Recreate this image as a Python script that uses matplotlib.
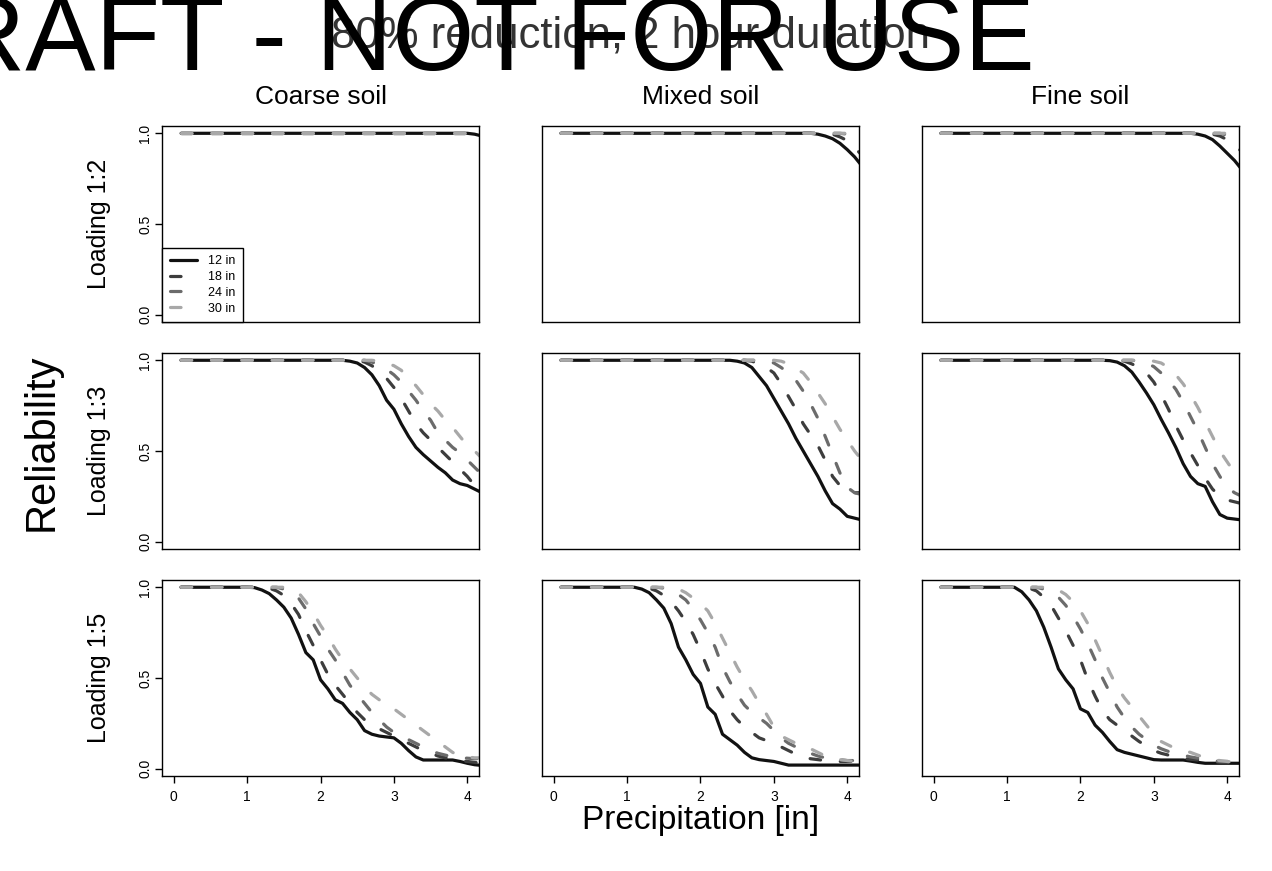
import matplotlib
matplotlib.use('Agg')
import matplotlib.pyplot as plt

plt.rcParams['font.family'] = ['Liberation Sans', 'DejaVu Sans']

# precipitation grid [in]
PRECIP = [0.1, 0.2, 0.3, 0.4, 0.5, 0.6, 0.7, 0.8, 0.9, 1.0,
          1.1, 1.2, 1.3, 1.4, 1.5, 1.6, 1.7, 1.8, 1.9, 2.0,
          2.1, 2.2, 2.3, 2.4, 2.5, 2.6, 2.7, 2.8, 2.9, 3.0,
          3.1, 3.2, 3.3, 3.4, 3.5, 3.6, 3.7, 3.8, 3.9, 4.0,
          4.1, 4.2]

DEPTHS = ['12 in', '18 in', '24 in', '30 in']
SOILS = ['Coarse soil', 'Mixed soil', 'Fine soil']
LOADINGS = ['Loading 1:2', 'Loading 1:3', 'Loading 1:5']
XTICKS = [0, 1, 2, 3, 4]
YTICKS = [0.0, 0.5, 1.0]
YTICKLABELS = ['0.0', '0.5', '1.0']

# ---- Loading 1:2 ----
L2_COARSE_12 = [1, 1, 1, 1, 1, 1, 1, 1, 1, 1,
                1, 1, 1, 1, 1, 1, 1, 1, 1, 1,
                1, 1, 1, 1, 1, 1, 1, 1, 1, 1,
                1, 1, 1, 1, 1, 1, 1, 1, 1, 1,
                0.995, 0.985]
L2_COARSE_18 = [1, 1, 1, 1, 1, 1, 1, 1, 1, 1,
                1, 1, 1, 1, 1, 1, 1, 1, 1, 1,
                1, 1, 1, 1, 1, 1, 1, 1, 1, 1,
                1, 1, 1, 1, 1, 1, 1, 1, 1, 1,
                1, 1]
L2_COARSE_24 = [1, 1, 1, 1, 1, 1, 1, 1, 1, 1,
                1, 1, 1, 1, 1, 1, 1, 1, 1, 1,
                1, 1, 1, 1, 1, 1, 1, 1, 1, 1,
                1, 1, 1, 1, 1, 1, 1, 1, 1, 1,
                1, 1]
L2_COARSE_30 = [1, 1, 1, 1, 1, 1, 1, 1, 1, 1,
                1, 1, 1, 1, 1, 1, 1, 1, 1, 1,
                1, 1, 1, 1, 1, 1, 1, 1, 1, 1,
                1, 1, 1, 1, 1, 1, 1, 1, 1, 1,
                1, 1]
L2_MIXED_12 = [1, 1, 1, 1, 1, 1, 1, 1, 1, 1,
               1, 1, 1, 1, 1, 1, 1, 1, 1, 1,
               1, 1, 1, 1, 1, 1, 1, 1, 1, 1,
               1, 1, 1, 1, 1, 0.995, 0.985, 0.97, 0.945, 0.91,
               0.87, 0.82]
L2_MIXED_18 = [1, 1, 1, 1, 1, 1, 1, 1, 1, 1,
               1, 1, 1, 1, 1, 1, 1, 1, 1, 1,
               1, 1, 1, 1, 1, 1, 1, 1, 1, 1,
               1, 1, 1, 1, 1, 1, 1, 0.995, 0.98, 0.96,
               0.92, 0.88]
L2_MIXED_24 = [1, 1, 1, 1, 1, 1, 1, 1, 1, 1,
               1, 1, 1, 1, 1, 1, 1, 1, 1, 1,
               1, 1, 1, 1, 1, 1, 1, 1, 1, 1,
               1, 1, 1, 1, 1, 1, 1, 1, 1, 0.995,
               0.98, 0.96]
L2_MIXED_30 = [1, 1, 1, 1, 1, 1, 1, 1, 1, 1,
               1, 1, 1, 1, 1, 1, 1, 1, 1, 1,
               1, 1, 1, 1, 1, 1, 1, 1, 1, 1,
               1, 1, 1, 1, 1, 1, 1, 1, 1, 1,
               0.995, 0.99]
L2_FINE_12 = [1, 1, 1, 1, 1, 1, 1, 1, 1, 1,
              1, 1, 1, 1, 1, 1, 1, 1, 1, 1,
              1, 1, 1, 1, 1, 1, 1, 1, 1, 1,
              1, 1, 1, 1, 1, 0.995, 0.985, 0.965, 0.93, 0.89,
              0.85, 0.80]
L2_FINE_18 = [1, 1, 1, 1, 1, 1, 1, 1, 1, 1,
              1, 1, 1, 1, 1, 1, 1, 1, 1, 1,
              1, 1, 1, 1, 1, 1, 1, 1, 1, 1,
              1, 1, 1, 1, 1, 1, 1, 0.995, 0.985, 0.965,
              0.93, 0.90]
L2_FINE_24 = [1, 1, 1, 1, 1, 1, 1, 1, 1, 1,
              1, 1, 1, 1, 1, 1, 1, 1, 1, 1,
              1, 1, 1, 1, 1, 1, 1, 1, 1, 1,
              1, 1, 1, 1, 1, 1, 1, 1, 1, 0.99,
              0.97, 0.94]
L2_FINE_30 = [1, 1, 1, 1, 1, 1, 1, 1, 1, 1,
              1, 1, 1, 1, 1, 1, 1, 1, 1, 1,
              1, 1, 1, 1, 1, 1, 1, 1, 1, 1,
              1, 1, 1, 1, 1, 1, 1, 1, 1, 1,
              1, 0.99]

# ---- Loading 1:3 ----
L3_COARSE_12 = [1, 1, 1, 1, 1, 1, 1, 1, 1, 1,
                1, 1, 1, 1, 1, 1, 1, 1, 1, 1,
                1, 1, 1, 0.995, 0.985, 0.96, 0.92, 0.86, 0.78, 0.73,
                0.65, 0.58, 0.52, 0.48, 0.445, 0.41, 0.38, 0.34, 0.32, 0.31,
                0.29, 0.27]
L3_COARSE_18 = [1, 1, 1, 1, 1, 1, 1, 1, 1, 1,
                1, 1, 1, 1, 1, 1, 1, 1, 1, 1,
                1, 1, 1, 1, 1, 0.99, 0.97, 0.94, 0.9, 0.85,
                0.79, 0.72, 0.65, 0.6, 0.56, 0.52, 0.48, 0.44, 0.4, 0.36,
                0.31, 0.28]
L3_COARSE_24 = [1, 1, 1, 1, 1, 1, 1, 1, 1, 1,
                1, 1, 1, 1, 1, 1, 1, 1, 1, 1,
                1, 1, 1, 1, 1, 1, 0.99, 0.975, 0.95, 0.92,
                0.88, 0.83, 0.78, 0.72, 0.67, 0.6, 0.56, 0.52, 0.49, 0.45,
                0.41, 0.37]
L3_COARSE_30 = [1, 1, 1, 1, 1, 1, 1, 1, 1, 1,
                1, 1, 1, 1, 1, 1, 1, 1, 1, 1,
                1, 1, 1, 1, 1, 1, 1, 0.995, 0.985, 0.97,
                0.945, 0.9, 0.86, 0.81, 0.76, 0.72, 0.67, 0.63, 0.58, 0.53,
                0.5, 0.46]
L3_MIXED_12 = [1, 1, 1, 1, 1, 1, 1, 1, 1, 1,
               1, 1, 1, 1, 1, 1, 1, 1, 1, 1,
               1, 1, 1, 1, 0.995, 0.985, 0.96, 0.91, 0.86, 0.79,
               0.72, 0.65, 0.57, 0.5, 0.43, 0.36, 0.28, 0.21, 0.18, 0.14,
               0.13, 0.12]
L3_MIXED_18 = [1, 1, 1, 1, 1, 1, 1, 1, 1, 1,
               1, 1, 1, 1, 1, 1, 1, 1, 1, 1,
               1, 1, 1, 1, 1, 1, 0.995, 0.98, 0.96, 0.93,
               0.87, 0.8, 0.73, 0.65, 0.59, 0.53, 0.45, 0.36, 0.31, 0.28,
               0.27, 0.27]
L3_MIXED_24 = [1, 1, 1, 1, 1, 1, 1, 1, 1, 1,
               1, 1, 1, 1, 1, 1, 1, 1, 1, 1,
               1, 1, 1, 1, 1, 1, 1, 1, 0.995, 0.985,
               0.96, 0.93, 0.89, 0.83, 0.76, 0.68, 0.58, 0.48, 0.38, 0.3,
               0.27, 0.26]
L3_MIXED_30 = [1, 1, 1, 1, 1, 1, 1, 1, 1, 1,
               1, 1, 1, 1, 1, 1, 1, 1, 1, 1,
               1, 1, 1, 1, 1, 1, 1, 1, 1, 1,
               0.995, 0.98, 0.955, 0.93, 0.88, 0.82, 0.76, 0.69, 0.62, 0.56,
               0.5, 0.45]
L3_FINE_12 = [1, 1, 1, 1, 1, 1, 1, 1, 1, 1,
              1, 1, 1, 1, 1, 1, 1, 1, 1, 1,
              1, 1, 1, 0.998, 0.99, 0.97, 0.935, 0.88, 0.82, 0.755,
              0.675, 0.6, 0.52, 0.43, 0.36, 0.32, 0.305, 0.22, 0.15, 0.13,
              0.125, 0.12]
L3_FINE_18 = [1, 1, 1, 1, 1, 1, 1, 1, 1, 1,
              1, 1, 1, 1, 1, 1, 1, 1, 1, 1,
              1, 1, 1, 1, 1, 0.995, 0.98, 0.96, 0.93, 0.88,
              0.81, 0.73, 0.64, 0.56, 0.49, 0.42, 0.35, 0.29, 0.25, 0.23,
              0.22, 0.21]
L3_FINE_24 = [1, 1, 1, 1, 1, 1, 1, 1, 1, 1,
              1, 1, 1, 1, 1, 1, 1, 1, 1, 1,
              1, 1, 1, 1, 1, 1, 1, 0.995, 0.985, 0.965,
              0.93, 0.89, 0.84, 0.77, 0.69, 0.61, 0.52, 0.43, 0.36, 0.3,
              0.27, 0.25]
L3_FINE_30 = [1, 1, 1, 1, 1, 1, 1, 1, 1, 1,
              1, 1, 1, 1, 1, 1, 1, 1, 1, 1,
              1, 1, 1, 1, 1, 1, 1, 1, 1, 0.995,
              0.985, 0.96, 0.92, 0.87, 0.81, 0.74, 0.66, 0.58, 0.5, 0.44,
              0.38, 0.34]

# ---- Loading 1:5 ----
L5_COARSE_12 = [1, 1, 1, 1, 1, 1, 1, 1, 1, 1,
                0.998, 0.985, 0.965, 0.93, 0.89, 0.83, 0.74, 0.64, 0.6, 0.49,
                0.44, 0.38, 0.36, 0.31, 0.27, 0.21, 0.19, 0.18, 0.175, 0.17,
                0.14, 0.1, 0.065, 0.048, 0.048, 0.048, 0.048, 0.048, 0.04, 0.03,
                0.022, 0.018]
L5_COARSE_18 = [1, 1, 1, 1, 1, 1, 1, 1, 1, 1,
                1, 1, 0.995, 0.98, 0.955, 0.91, 0.85, 0.76, 0.68, 0.6,
                0.52, 0.46, 0.41, 0.36, 0.31, 0.27, 0.24, 0.22, 0.2, 0.18,
                0.16, 0.14, 0.12, 0.1, 0.085, 0.07, 0.06, 0.05, 0.045, 0.04,
                0.035, 0.03]
L5_COARSE_24 = [1, 1, 1, 1, 1, 1, 1, 1, 1, 1,
                1, 1, 1, 1, 0.99, 0.975, 0.94, 0.88, 0.8, 0.73,
                0.66, 0.6, 0.53, 0.46, 0.41, 0.36, 0.31, 0.27, 0.23, 0.2,
                0.18, 0.16, 0.14, 0.12, 0.1, 0.085, 0.075, 0.065, 0.06, 0.058,
                0.055, 0.055]
L5_COARSE_30 = [1, 1, 1, 1, 1, 1, 1, 1, 1, 1,
                1, 1, 1, 1, 1, 0.99, 0.97, 0.92, 0.86, 0.79,
                0.73, 0.66, 0.6, 0.55, 0.5, 0.45, 0.41, 0.38, 0.35, 0.33,
                0.3, 0.27, 0.24, 0.21, 0.18, 0.15, 0.12, 0.09, 0.07, 0.065,
                0.06, 0.06]
L5_MIXED_12 = [1, 1, 1, 1, 1, 1, 1, 1, 1, 1,
               1, 0.99, 0.97, 0.93, 0.885, 0.8, 0.67, 0.6, 0.52, 0.47,
               0.34, 0.3, 0.19, 0.16, 0.13, 0.09, 0.06, 0.05, 0.045, 0.04,
               0.03, 0.02, 0.02, 0.02, 0.02, 0.02, 0.02, 0.02, 0.02, 0.02,
               0.02, 0.02]
L5_MIXED_18 = [1, 1, 1, 1, 1, 1, 1, 1, 1, 1,
               1, 1, 0.995, 0.98, 0.955, 0.92, 0.87, 0.81, 0.74, 0.65,
               0.55, 0.47, 0.4, 0.32, 0.27, 0.23, 0.2, 0.17, 0.155, 0.14,
               0.12, 0.1, 0.08, 0.065, 0.055, 0.05, 0.045, 0.04, 0.04, 0.04,
               0.04, 0.04]
L5_MIXED_24 = [1, 1, 1, 1, 1, 1, 1, 1, 1, 1,
               1, 1, 1, 1, 0.995, 0.985, 0.96, 0.93, 0.88, 0.82,
               0.75, 0.67, 0.56, 0.48, 0.41, 0.35, 0.31, 0.28, 0.25, 0.21,
               0.17, 0.14, 0.12, 0.1, 0.085, 0.07, 0.06, 0.05, 0.05, 0.045,
               0.045, 0.045]
L5_MIXED_30 = [1, 1, 1, 1, 1, 1, 1, 1, 1, 1,
               1, 1, 1, 1, 1, 1, 0.99, 0.97, 0.94, 0.91,
               0.87, 0.8, 0.72, 0.64, 0.56, 0.49, 0.43, 0.36, 0.3, 0.23,
               0.18, 0.16, 0.14, 0.125, 0.11, 0.09, 0.07, 0.055, 0.05, 0.045,
               0.04, 0.04]
L5_FINE_12 = [1, 1, 1, 1, 1, 1, 1, 1, 1, 1,
              1, 0.975, 0.93, 0.87, 0.78, 0.67, 0.55, 0.49, 0.44, 0.33,
              0.31, 0.24, 0.2, 0.15, 0.105, 0.09, 0.08, 0.07, 0.06, 0.05,
              0.048, 0.048, 0.048, 0.048, 0.042, 0.035, 0.03, 0.03, 0.03, 0.03,
              0.03, 0.03]
L5_FINE_18 = [1, 1, 1, 1, 1, 1, 1, 1, 1, 1,
              1, 1, 0.995, 0.98, 0.945, 0.9, 0.83, 0.76, 0.68, 0.6,
              0.49, 0.4, 0.32, 0.27, 0.24, 0.21, 0.18, 0.15, 0.125, 0.1,
              0.085, 0.075, 0.065, 0.057, 0.052, 0.048, 0.045, 0.04, 0.035, 0.033,
              0.03, 0.03]
L5_FINE_24 = [1, 1, 1, 1, 1, 1, 1, 1, 1, 1,
              1, 1, 1, 1, 0.99, 0.975, 0.945, 0.9, 0.84, 0.77,
              0.69, 0.6, 0.5, 0.42, 0.34, 0.28, 0.23, 0.19, 0.16, 0.13,
              0.11, 0.095, 0.085, 0.075, 0.065, 0.058, 0.05, 0.045, 0.04, 0.04,
              0.035, 0.035]
L5_FINE_30 = [1, 1, 1, 1, 1, 1, 1, 1, 1, 1,
              1, 1, 1, 1, 1, 1, 0.985, 0.96, 0.92, 0.87,
              0.8, 0.71, 0.62, 0.53, 0.45, 0.39, 0.34, 0.29, 0.24, 0.19,
              0.15, 0.13, 0.11, 0.1, 0.09, 0.075, 0.06, 0.05, 0.045, 0.04,
              0.035, 0.035]

PANELS = [
    [[L2_COARSE_12, L2_COARSE_18, L2_COARSE_24, L2_COARSE_30],
     [L2_MIXED_12, L2_MIXED_18, L2_MIXED_24, L2_MIXED_30],
     [L2_FINE_12, L2_FINE_18, L2_FINE_24, L2_FINE_30]],
    [[L3_COARSE_12, L3_COARSE_18, L3_COARSE_24, L3_COARSE_30],
     [L3_MIXED_12, L3_MIXED_18, L3_MIXED_24, L3_MIXED_30],
     [L3_FINE_12, L3_FINE_18, L3_FINE_24, L3_FINE_30]],
    [[L5_COARSE_12, L5_COARSE_18, L5_COARSE_24, L5_COARSE_30],
     [L5_MIXED_12, L5_MIXED_18, L5_MIXED_24, L5_MIXED_30],
     [L5_FINE_12, L5_FINE_18, L5_FINE_24, L5_FINE_30]],
]

LINE_COLORS = ['#111111', '#3d3d3d', '#6b6b6b', '#a8a8a8']
DASH = (0, (3.3, 6.2))

fig = plt.figure(figsize=(12.72, 8.71), dpi=100)

lefts = [0.1274, 0.4261, 0.7248]
bottoms = [0.6303, 0.3697, 0.1091]
w, h = 0.2492, 0.2250

for r in range(3):
    for c in range(3):
        ax = fig.add_axes([lefts[c], bottoms[r], w, h])
        for k, ys in enumerate(PANELS[r][c]):
            ax.plot(PRECIP, ys, color=LINE_COLORS[k], lw=2.3,
                    ls='-' if k == 0 else DASH,
                    solid_capstyle='round', dash_capstyle='round',
                    label=DEPTHS[k])
        ax.set_xlim(-0.16, 4.16)
        ax.set_ylim(-0.04, 1.04)
        for s in ax.spines.values():
            s.set_linewidth(1.0)
            s.set_color('black')
        ax.tick_params(direction='out', length=5, width=1, labelsize=10,
                       colors='black')
        if c == 0:
            ax.set_yticks(YTICKS)
            ax.set_yticklabels(YTICKLABELS, rotation=90, va='center')
            ax.tick_params(axis='y', pad=2)
            fig.text(0.0778, bottoms[r] + h / 2, LOADINGS[r], rotation=90,
                     ha='center', va='center', fontsize=18)
        else:
            ax.set_yticks([])
        if r == 2:
            ax.set_xticks(XTICKS)
            ax.tick_params(axis='x', pad=5)
        else:
            ax.set_xticks([])
        if r == 0:
            fig.text(lefts[c] + w / 2, 0.8806, SOILS[c], ha='center',
                     va='baseline', fontsize=19)
        if r == 0 and c == 0:
            leg = ax.legend(loc='lower left', borderaxespad=0, fontsize=9,
                            fancybox=False, edgecolor='black', framealpha=1,
                            handlelength=2.2, handletextpad=0.9,
                            labelspacing=0.3, borderpad=0.6)
            leg.get_frame().set_linewidth(1.0)

fig.text(0.033, 0.4925, 'Reliability', rotation=90, ha='center',
         va='center', fontsize=30)
fig.text(0.5507, 0.0585, 'Precipitation [in]', ha='center', va='center',
         fontsize=24)
fig.text(0.4953, 0.9449, '80% reduction, 2 hour duration', ha='center',
         va='baseline', fontsize=31.5, color='#333333')
fig.text(0.8137, 0.9196, 'DRAFT - NOT FOR USE', ha='right', va='baseline',
         fontsize=76, color='black', zorder=10)

fig.savefig('out.png', dpi=100)
